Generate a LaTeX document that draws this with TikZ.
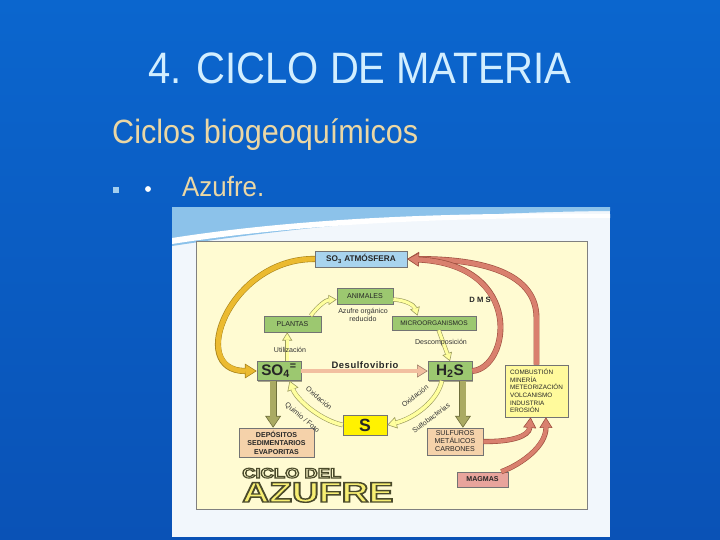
\documentclass[tikz,border=0pt]{standalone}
\usepackage{fontspec}
\setmainfont{Liberation Sans}
\usetikzlibrary{arrows.meta,shadows,calc}
\definecolor{bgtop}{HTML}{0B66CE}
\definecolor{bgbot}{HTML}{0A52B6}
\definecolor{titlec}{HTML}{D2EEFF}
\definecolor{tanc}{HTML}{EBD7A4}
\definecolor{framebg}{HTML}{F2F7FC}
\definecolor{swoosh}{HTML}{8CC2EA}
\definecolor{cream}{HTML}{FFFBD2}
\definecolor{boxgreen}{HTML}{9CC870}
\definecolor{boxblue}{HTML}{A8D4EE}
\definecolor{boxpeach}{HTML}{F5D2AA}
\definecolor{boxyel}{HTML}{FFFA9C}
\definecolor{boxpink}{HTML}{E8A49C}
\definecolor{sbox}{HTML}{FFF200}
\definecolor{goldf}{HTML}{EBBA30}
\definecolor{goldo}{HTML}{A8841C}
\definecolor{redf}{HTML}{D9806E}
\definecolor{redo}{HTML}{9C4E3E}
\definecolor{olivef}{HTML}{AAAA62}
\definecolor{oliveo}{HTML}{6E6E3C}
\definecolor{peachf}{HTML}{F2BFA0}
\definecolor{peacho}{HTML}{A07C68}
\definecolor{lyelf}{HTML}{FFFF9E}
\definecolor{lyelo}{HTML}{9A9A5C}
\definecolor{azf}{HTML}{F7EE72}
\definecolor{ciclof}{HTML}{FBF7C8}
\newcommand{\fatarrow}[6]{%
  \pgfmathsetmacro\fawo{#3+1}%
  \pgfmathsetmacro\fash{#4-0.7}%
  \draw[draw=#1, line width=\fawo pt, -{Triangle[length=#4pt,width=#5pt,line width=0.5pt,fill=#2]}] #6;
  \draw[draw=#2, line width=#3pt, shorten >=\fash pt] #6;
}
\newcommand{\outlined}[2]{\special{pdf:literal direct q 2 Tr #1 w 0.29 0.29 0.17 RG}#2\special{pdf:literal direct Q}}
\tikzset{
  box/.style={draw=black!55, line width=0.5pt, inner sep=0pt, align=center, text=black!85,
    drop shadow={shadow xshift=1.2pt, shadow yshift=-1.2pt, fill=black, opacity=0.35}},
  lbl/.style={font=\fontsize{6}{7.5}\selectfont, text=black!80, inner sep=0.5pt, align=center},
}
\begin{document}
\begin{tikzpicture}[x=0.85pt, y=-0.85pt]
\useasboundingbox (0,0) rectangle (720,540);
% background
\shade[top color=bgtop, bottom color=bgbot] (0,0) rectangle (720,540);
% title texts
\node[text=titlec, font=\fontsize{34}{40}\selectfont, yscale=1.1, anchor=base, inner sep=0] (title) at (360,83) {4. CICLO DE MATERIA};
\node[text=tanc, font=\fontsize{26}{30}\selectfont, yscale=1.1, anchor=base west, inner sep=0] (sub) at (112,143) {Ciclos biogeoquímicos};
\node[fill=swoosh!80!white, minimum size=5pt, inner sep=0] (sq) at (116,190) {};
\node[circle, fill=white, minimum size=5pt, inner sep=0] (dot) at (148,189) {};
\node[text=tanc, font=\fontsize{22}{26}\selectfont, yscale=1.08, anchor=base west, inner sep=0] (azu) at (182,196) {Azufre.};
% embedded picture frame
\fill[framebg] (172,207) rectangle (610,537);
\fill[swoosh] (172,207) -- (610,207) -- (610,211) .. controls (480,212) and (330,222) .. (172,246) -- cycle;
\fill[white] (172,238) .. controls (300,218) and (450,212) .. (610,214) -- (610,218) .. controls (450,217) and (300,224) .. (172,244) -- cycle;
\filldraw[fill=cream, draw=black!50, line width=0.6pt] (196,241) rectangle (587,509);
% nodes
\node[box, fill=boxblue, minimum width=78pt, minimum height=13.6pt, font=\bfseries\fontsize{7}{8}\selectfont] (so3) at (361,259) {SO\textsubscript{3} ATMÓSFERA};
\node[box, fill=boxgreen, minimum width=47.6pt, minimum height=13.6pt, font=\fontsize{6}{7}\selectfont] (anim) at (365,296) {ANIMALES};
\node[box, fill=boxgreen, minimum width=48.5pt, minimum height=13.6pt, font=\fontsize{6}{7}\selectfont] (plant) at (292.5,324) {PLANTAS};
\node[box, fill=boxgreen, minimum width=71.4pt, minimum height=11.9pt, font=\fontsize{5.6}{7}\selectfont] (micro) at (434,323) {MICROORGANISMOS};
\node[box, fill=boxgreen, minimum width=37.4pt, minimum height=16.2pt, font=\bfseries\fontsize{13}{14}\selectfont] (so4) at (279,371) {SO\textsubscript{4}\textsuperscript{=}};
\node[box, fill=boxgreen, minimum width=37.4pt, minimum height=16.2pt, font=\bfseries\fontsize{13}{14}\selectfont] (h2s) at (450,371) {H\textsubscript{2}S};
\node[box, fill=sbox, minimum width=37.4pt, minimum height=17pt, font=\bfseries\fontsize{15}{15}\selectfont] (s) at (365,425) {S};
\node[box, fill=boxpeach, minimum width=63.8pt, minimum height=24.7pt, font=\bfseries\fontsize{6}{7.2}\selectfont] (dep) at (276.5,442.5) {DEPÓSITOS\\SEDIMENTARIOS\\EVAPORITAS};
\node[box, fill=boxpeach, minimum width=47.6pt, minimum height=23pt, font=\fontsize{6}{6.8}\selectfont] (sul) at (455,441.5) {SULFUROS\\METÁLICOS\\CARBONES};
\node[box, fill=boxyel, minimum width=53.6pt, minimum height=44.2pt, align=left, font=\fontsize{5.4}{6.5}\selectfont] (comb) at (536.5,391) {COMBUSTIÓN\\MINERÍA\\METEORIZACIÓN\\VOLCANISMO\\INDUSTRIA\\EROSIÓN};
\node[box, fill=boxpink, minimum width=43.4pt, minimum height=12.8pt, font=\bfseries\fontsize{6}{7}\selectfont] (mag) at (482.5,479.5) {MAGMAS};
% big curved arrows
\fatarrow{goldo}{goldf}{4.2}{10}{12.5}{(so3.west) .. controls (230,258) and (186,371) .. (so4.west)}
\fatarrow{redo}{redf}{4}{10}{12}{(comb.north) -- (536.5,318) .. controls (536.5,268) and (470,259) .. (so3.east)}
\fatarrow{redo}{redf}{4}{10}{12}{(h2s.east) .. controls (510,368) and (525,265) .. (so3.east)}
\coordinate (c1) at ([xshift=-5pt]comb.south);
\coordinate (c2) at ([xshift=8pt]comb.south);
\coordinate (m1) at ([xshift=-6pt]mag.north east);
\fatarrow{redo}{redf}{3.4}{9}{11}{(sul.east) .. controls (512,442) and (529,436) .. (c1)}
\fatarrow{redo}{redf}{3.4}{9}{11}{(m1) .. controls (522,464) and (546,446) .. (c2)}
% vertical olive arrows
\coordinate (o1) at ([xshift=-5pt]so4.south);
\coordinate (o1e) at (o1 |- dep.north);
\coordinate (o2) at ([xshift=11pt]h2s.south);
\coordinate (o2e) at (o2 |- sul.north);
\fatarrow{oliveo}{olivef}{5}{10}{13.5}{(o1) -- (o1e)}
\fatarrow{oliveo}{olivef}{5}{10}{13.5}{(o2) -- (o2e)}
% desulfovibrio
\coordinate (d1) at (so4.east -| h2s.west);
\fatarrow{peacho}{peachf}{3.2}{9}{11}{(so4.east) -- (d1)}
% S <-> SO4, H2S -> S
\coordinate (q1) at ([xshift=9pt]so4.south);
\fatarrow{lyelo}{lyelf}{3}{8}{10}{(s.west) .. controls (320,420) and (297,400) .. (q1)}
\coordinate (q2) at ([xshift=-7pt]h2s.south);
\fatarrow{lyelo}{lyelf}{3}{8}{10}{(q2) .. controls (438,400) and (415,418) .. (s.east)}
% small arrows
\coordinate (u1) at ([xshift=7pt]so4.north);
\coordinate (u1e) at (u1 |- plant.south);
\fatarrow{lyelo}{lyelf}{2.6}{7}{8.5}{(u1) -- (u1e)}
\coordinate (p1) at ([xshift=-9pt]plant.north east);
\coordinate (p2) at ([yshift=-3pt]anim.west);
\fatarrow{lyelo}{lyelf}{2.6}{7}{8.5}{(p1) .. controls (318,306) and (326,300) .. (p2)}
\coordinate (a1) at ([yshift=-3pt]anim.east);
\coordinate (a2) at ([xshift=-14pt]micro.north);
\fatarrow{lyelo}{lyelf}{2.6}{7}{8.5}{(a1) .. controls (405,300) and (414,305) .. (a2)}
\coordinate (mi1) at ([xshift=4pt]micro.south);
\fatarrow{lyelo}{lyelf}{2.6}{7}{8.5}{(mi1) -- (h2s.north)}
% labels
\node[lbl] (azor) at (363,315) {Azufre orgánico\\reducido};
\node[lbl] (util) at (290,350) {Utilización};
\node[lbl] (desc) at (441,343) {Descomposición};
\node[font=\bfseries\fontsize{6.5}{7}\selectfont, text=black!85, inner sep=0] (dms) at (480,300) {D M S};
\node[font=\bfseries\fontsize{8}{9}\selectfont\addfontfeature{LetterSpace=6}, text=black!85, inner sep=0] (desul) at (365,365) {Desulfovibrio};
\node[lbl, rotate=-40, inner sep=0] (ox1) at (319,398) {Oxidación};
\node[lbl, rotate=-40, inner sep=0] (qf) at (302,418) {Quimio / Foto};
\node[lbl, rotate=37, inner sep=0] (ox2) at (415,396) {Oxidación};
\node[lbl, rotate=37, inner sep=0] (sulfo) at (431,418) {Sulfobacterias};
% CICLO DEL AZUFRE
\node[text=ciclof, font=\bfseries\fontsize{12}{12}\selectfont, xscale=1.3, anchor=base west, inner sep=0] (ciclo) at (242,478) {\outlined{0.9}{CICLO DEL}};
\node[text=azf, font=\bfseries\fontsize{24}{24}\selectfont, xscale=1.32, anchor=base west, inner sep=0] (azufre) at (242,502) {\outlined{1.2}{AZUFRE}};
\end{tikzpicture}
\end{document}
